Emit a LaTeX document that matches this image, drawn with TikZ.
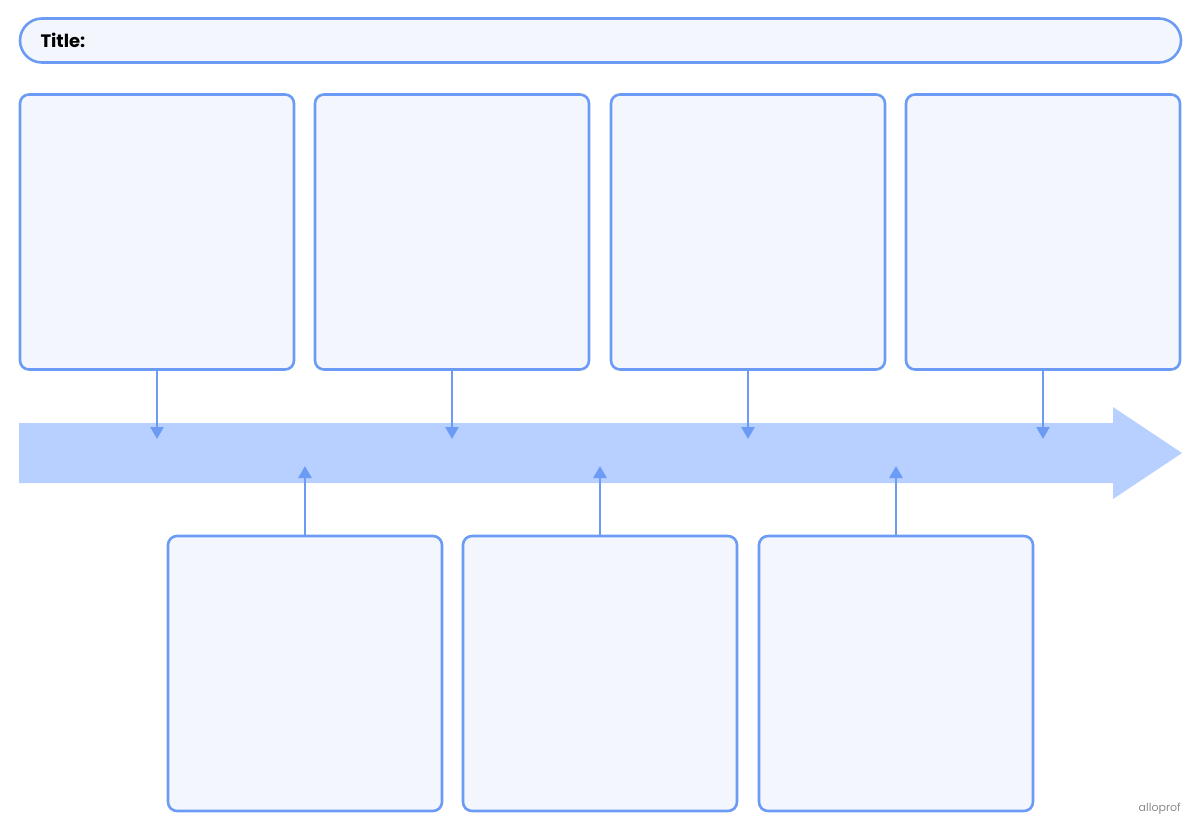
\documentclass[tikz,border=0pt]{standalone}
\usepackage{fontspec}
\setmainfont{Poppins}
\usetikzlibrary{arrows.meta}
\definecolor{lineblue}{HTML}{6B9BF5}
\definecolor{boxfill}{HTML}{F3F7FD}
\definecolor{bandblue}{HTML}{B7D0FF}
\tikzset{
  card/.style={draw=lineblue,fill=boxfill,line width=2.6pt,rounded corners=9pt,
    minimum width=274pt,minimum height=275pt,inner sep=0pt},
  link/.style={draw=lineblue,line width=2.6pt,-{Triangle[length=12pt,width=13pt]}}
}
\begin{document}
\begin{tikzpicture}[x=1pt,y=-1pt,line join=round]
        \useasboundingbox (0,0) rectangle (1200,831);
        % title bar
        \node[draw=lineblue,fill=boxfill,line width=2.6pt,rounded corners=22pt,
          minimum width=1161pt,minimum height=44pt,inner sep=0pt] (title) at (600.5,40.5) {};
        \node[anchor=base west,font=\fontsize{18}{20}\selectfont\bfseries] (titletxt) at (37,47) {Title:};
        
        % timeline band
        \fill[bandblue] (19,423) coordinate (L) -- (1113,423) -- (1113,407) -- (1182,453) coordinate (tip)
          -- (1113,499) -- (1113,483) -- (19,483) -- cycle;
        
        % cards above the line
        \node[card] (t1) at (157,232) {};
        \node[card] (t2) at (452,232) {};
        \node[card] (t3) at (748,232) {};
        \node[card] (t4) at (1043,232) {};
        % cards below the line
        \node[card] (b1) at (305,673.5) {};
        \node[card] (b2) at (600,673.5) {};
        \node[card] (b3) at (896,673.5) {};
        
        \path (157,439) coordinate (d1) (452,439) coordinate (d2)
          (748,439) coordinate (d3) (1043,439) coordinate (d4)
          (305,466) coordinate (u1) (600,466) coordinate (u2) (896,466) coordinate (u3);
        
        \draw[link] (t1.south)--(d1);
        \draw[link] (t2.south)--(d2);
        \draw[link] (t3.south)--(d3);
        \draw[link] (t4.south)--(d4);
        \draw[link] (b1.north)--(u1);
        \draw[link] (b2.north)--(u2);
        \draw[link] (b3.north)--(u3);
        
        \node[anchor=base east,inner sep=0pt,text=black!45,font=\fontsize{11}{13}\selectfont] (logo) at (1181,811) {alloprof};
      \end{tikzpicture}
\end{document}
